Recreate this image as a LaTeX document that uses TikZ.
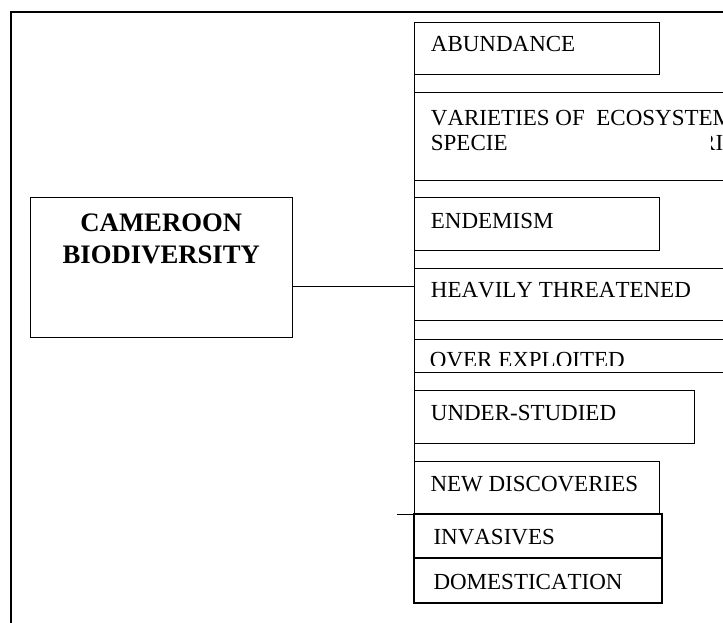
\documentclass[tikz,border=0pt]{standalone}
\usepackage{fontspec}
\setmainfont{Liberation Serif}[Kerning=Off]
\begin{document}
\begin{tikzpicture}[x=1pt,y=-1pt,
  box/.style={draw, line width=1pt, rectangle, inner sep=0pt, outer sep=0pt, anchor=north west},
  thickbox/.style={box, line width=1.7pt},
  lbl/.style={font=\fontsize{23}{26}\selectfont, anchor=base west, inner sep=0pt},
  ttl/.style={font=\fontsize{26.7}{31}\selectfont\bfseries, anchor=base, inner sep=0pt},
  framestyle/.style={line width=1.6pt},
  conn/.style={line width=1pt}]
\useasboundingbox (0,0) rectangle (723,622);
\clip (0,0) rectangle (723,622);
% outer frame
\coordinate (fr) at (11,11.7);
\coordinate (frb) at (11,640);
\coordinate (frr) at (740,11.7);
\draw[framestyle] (frb) -- (fr) -- (frr);
% central box
\node[box, minimum width=261.3pt, minimum height=140.4pt] (cam) at (30.7,197.3) {};
\node[ttl] (cam1) at (161.3,231.7) {CAMEROON};
\node[ttl] (cam2) at (161.3,263.3) {BIODIVERSITY};
% feature boxes
\node[box, minimum width=245pt, minimum height=51.6pt] (ab) at (414.3,22.7) {};
\node[box, minimum width=326pt, minimum height=87.7pt] (var) at (414.3,92.3) {};
\node[box, minimum width=245pt, minimum height=52.3pt] (end) at (414.3,197.7) {};
\node[box, minimum width=326pt, minimum height=51.7pt] (hev) at (414.3,268.3) {};
\node[box, minimum width=326pt, minimum height=33.3pt] (over) at (414.3,339) {};
\node[box, minimum width=280pt, minimum height=52.6pt] (und) at (414.3,390.7) {};
\node[box, minimum width=245.3pt, minimum height=53pt] (new) at (414.3,461) {};
\node[thickbox, minimum width=248.6pt, minimum height=44.3pt] (inv) at (413.7,514) {};
\node[thickbox, minimum width=248.6pt, minimum height=45pt] (dom) at (413.7,558.3) {};
% labels
\node[lbl] (tab) at (430.7,51.7) {ABUNDANCE};
\node[lbl] (tvar1) at (430.7,125) {VARIETIES OF\ \ ECOSYSTEM};
\node[lbl] (tvar2) at (430.7,150) {SPECIE};
\begin{scope}
  \clip (711,130) rectangle (723,160);
  \node[lbl] (tvar3) at (700,150) {RI};
\end{scope}
\node[lbl] (tend) at (430.7,228) {ENDEMISM};
\node[lbl] (thev) at (430.7,297.3) {HEAVILY THREATENED};
\begin{scope}
  \clip (420,345) rectangle (723,365);
  \node[lbl] (tover) at (429.7,367) {OVER EXPLOITED};
\end{scope}
\node[lbl] (tund) at (430.7,420) {UNDER-STUDIED};
\node[lbl] (tnew) at (430.3,491) {NEW DISCOVERIES};
\node[lbl] (tinv) at (433.3,544) {INVASIVES};
\node[lbl] (tdom) at (433.3,589) {DOMESTICATION};
% connectors
\draw[conn] (ab.north west) -- (new.south west);
\coordinate (j) at (414.3,286);
\draw[conn] (cam.east |- j) -- (j);
\coordinate (stub) at (397,514);
\draw[conn] (stub) -- (inv.north west);
\end{tikzpicture}
\end{document}
